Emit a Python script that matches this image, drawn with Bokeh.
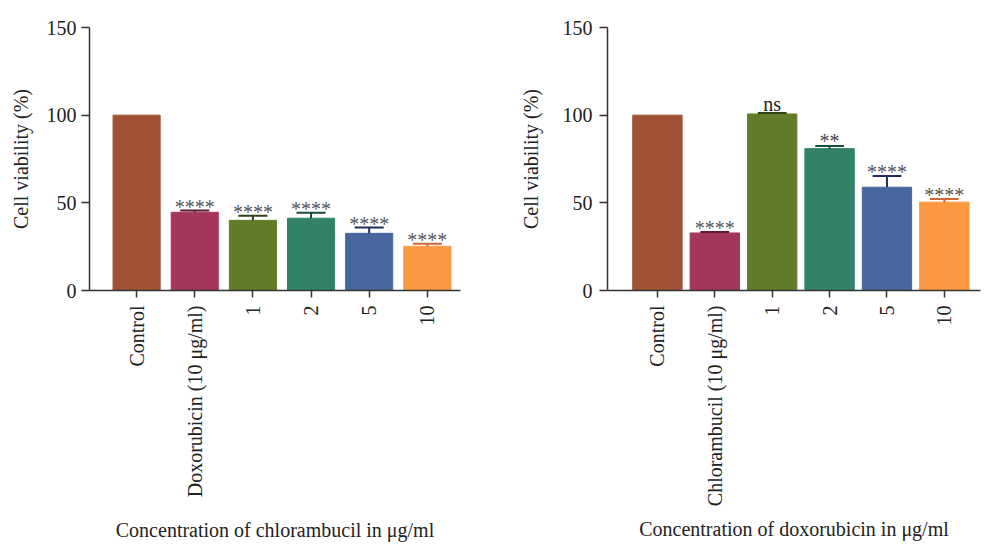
from bokeh.plotting import figure
from bokeh.models import Range1d, FixedTicker, ColumnDataSource
from bokeh.layouts import row
from bokeh.core.properties import value
from bokeh.embed import file_html
from bokeh.resources import INLINE

# ---- data ----
left_cats = ["Control", "Doxorubicin (10 μg/ml)", "1", "2", "5", "10"]
left_vals = [100.0, 44.6, 40.0, 41.2, 32.6, 25.2]
left_err = [0.0, 1.0, 2.6, 3.2, 3.3, 1.5]
left_sig = ["", "****", "****", "****", "****", "****"]

right_cats = ["Control", "Chlorambucil (10 μg/ml)", "1", "2", "5", "10"]
right_vals = [100.0, 32.8, 100.7, 80.9, 58.9, 50.4]
right_err = [0.0, 0.5, 0.6, 1.5, 6.4, 1.8]
right_sig = ["", "****", "ns", "**", "****", "****"]

bar_colors = ["#A15234", "#A3365B", "#627D2A", "#328269", "#48679E", "#FB9841"]
err_colors = ["#5a2a18", "#5c1a33", "#2f4215", "#164d3c", "#1f2e58", "#d0653a"]
sig_colors = {"****": "#555555", "**": "#444444", "ns": "#222222"}
sig_offsets = {"****": -4, "**": -5, "ns": -9}

y_ticks = [0, 50, 100, 150]
FONT = "Liberation Serif"


def panel(cats, vals, errs, sigs, xlabel, xr, bar_w, bl, br, bt,
          ylab_standoff, ytick_standoff, xlab_standoff):
    xs = list(range(1, len(cats) + 1))
    p = figure(width=496, height=544, output_backend="svg", toolbar_location=None,
               x_range=Range1d(*xr), y_range=Range1d(0, 150),
               min_border_left=bl, min_border_right=br, min_border_top=bt,
               min_border_bottom=254)
    p.outline_line_color = None
    p.grid.visible = False
    src = ColumnDataSource(dict(x=xs, top=vals, color=bar_colors))
    p.vbar(x="x", top="top", width=bar_w, bottom=0, color="color", source=src)

    ex = [x for x, e in zip(xs, errs) if e > 0]
    ev = [v for v, e in zip(vals, errs) if e > 0]
    ee = [v + e for v, e in zip(vals, errs) if e > 0]
    ec = [c for c, e in zip(err_colors, errs) if e > 0]
    esrc = ColumnDataSource(dict(x=ex, y0=ev, y1=ee, c=ec,
                                 xl=[x - 0.25 for x in ex], xr=[x + 0.25 for x in ex]))
    p.segment(x0="x", y0="y0", x1="x", y1="y1", line_color="c", line_width=2, source=esrc)
    p.segment(x0="xl", y0="y1", x1="xr", y1="y1", line_color="c", line_width=2, source=esrc)

    sx = [x for x, s in zip(xs, sigs) if s]
    sy = [v + e for v, e, s in zip(vals, errs, sigs) if s]
    st = [s for s in sigs if s]
    sc = [sig_colors[s] for s in st]
    so = [sig_offsets[s] for s in st]
    ssrc = ColumnDataSource(dict(x=sx, y=sy, t=st, c=sc, o=so))
    p.text(x="x", y="y", text="t", source=ssrc, text_color="c", y_offset="o",
           text_font=value(FONT), text_font_size="20px",
           text_align="center", text_baseline="alphabetic")

    for ax in (p.xaxis[0], p.yaxis[0]):
        ax.axis_line_color = "#333333"
        ax.axis_line_width = 1.5
        ax.major_tick_line_color = "#333333"
        ax.major_tick_line_width = 1.5
        ax.major_tick_in = 0
        ax.minor_tick_line_color = None
        ax.major_label_text_font = FONT
        ax.major_label_text_color = "#222222"
        ax.axis_label_text_font = FONT
        ax.axis_label_text_font_style = "normal"
        ax.axis_label_text_color = "#222222"

    p.yaxis.ticker = FixedTicker(ticks=y_ticks)
    p.yaxis.major_tick_out = 8
    p.yaxis.major_label_standoff = ytick_standoff
    p.yaxis.major_label_text_font_size = "20px"
    p.yaxis.axis_label = "Cell viability (%)"
    p.yaxis.axis_label_text_font_size = "20px"
    p.yaxis.axis_label_standoff = ylab_standoff

    p.xaxis.ticker = FixedTicker(ticks=xs)
    p.xaxis.major_label_overrides = {x: c for x, c in zip(xs, cats)}
    p.xaxis.major_label_orientation = 3.14159265 / 2
    p.xaxis.major_tick_out = 7
    p.xaxis.major_label_standoff = 8
    p.xaxis.major_label_text_font_size = "20px"
    p.xaxis.axis_label = xlabel
    p.xaxis.axis_label_text_font_size = "20px"
    p.xaxis.axis_label_standoff = xlab_standoff
    return p


left = panel(left_cats, left_vals, left_err, left_sig,
             "Concentration of chlorambucil in μg/ml",
             (0.19, 6.57), 0.81, 89, 36, 27, 12, 5, 19)
right = panel(right_cats, right_vals, right_err, right_sig,
              "Concentration of doxorubicin in μg/ml",
              (0.13, 6.63), 0.86, 111, 12, 25, 18, 7, 9)

layout = row(left, right)
open("out.html", "w").write(file_html(layout, INLINE))
